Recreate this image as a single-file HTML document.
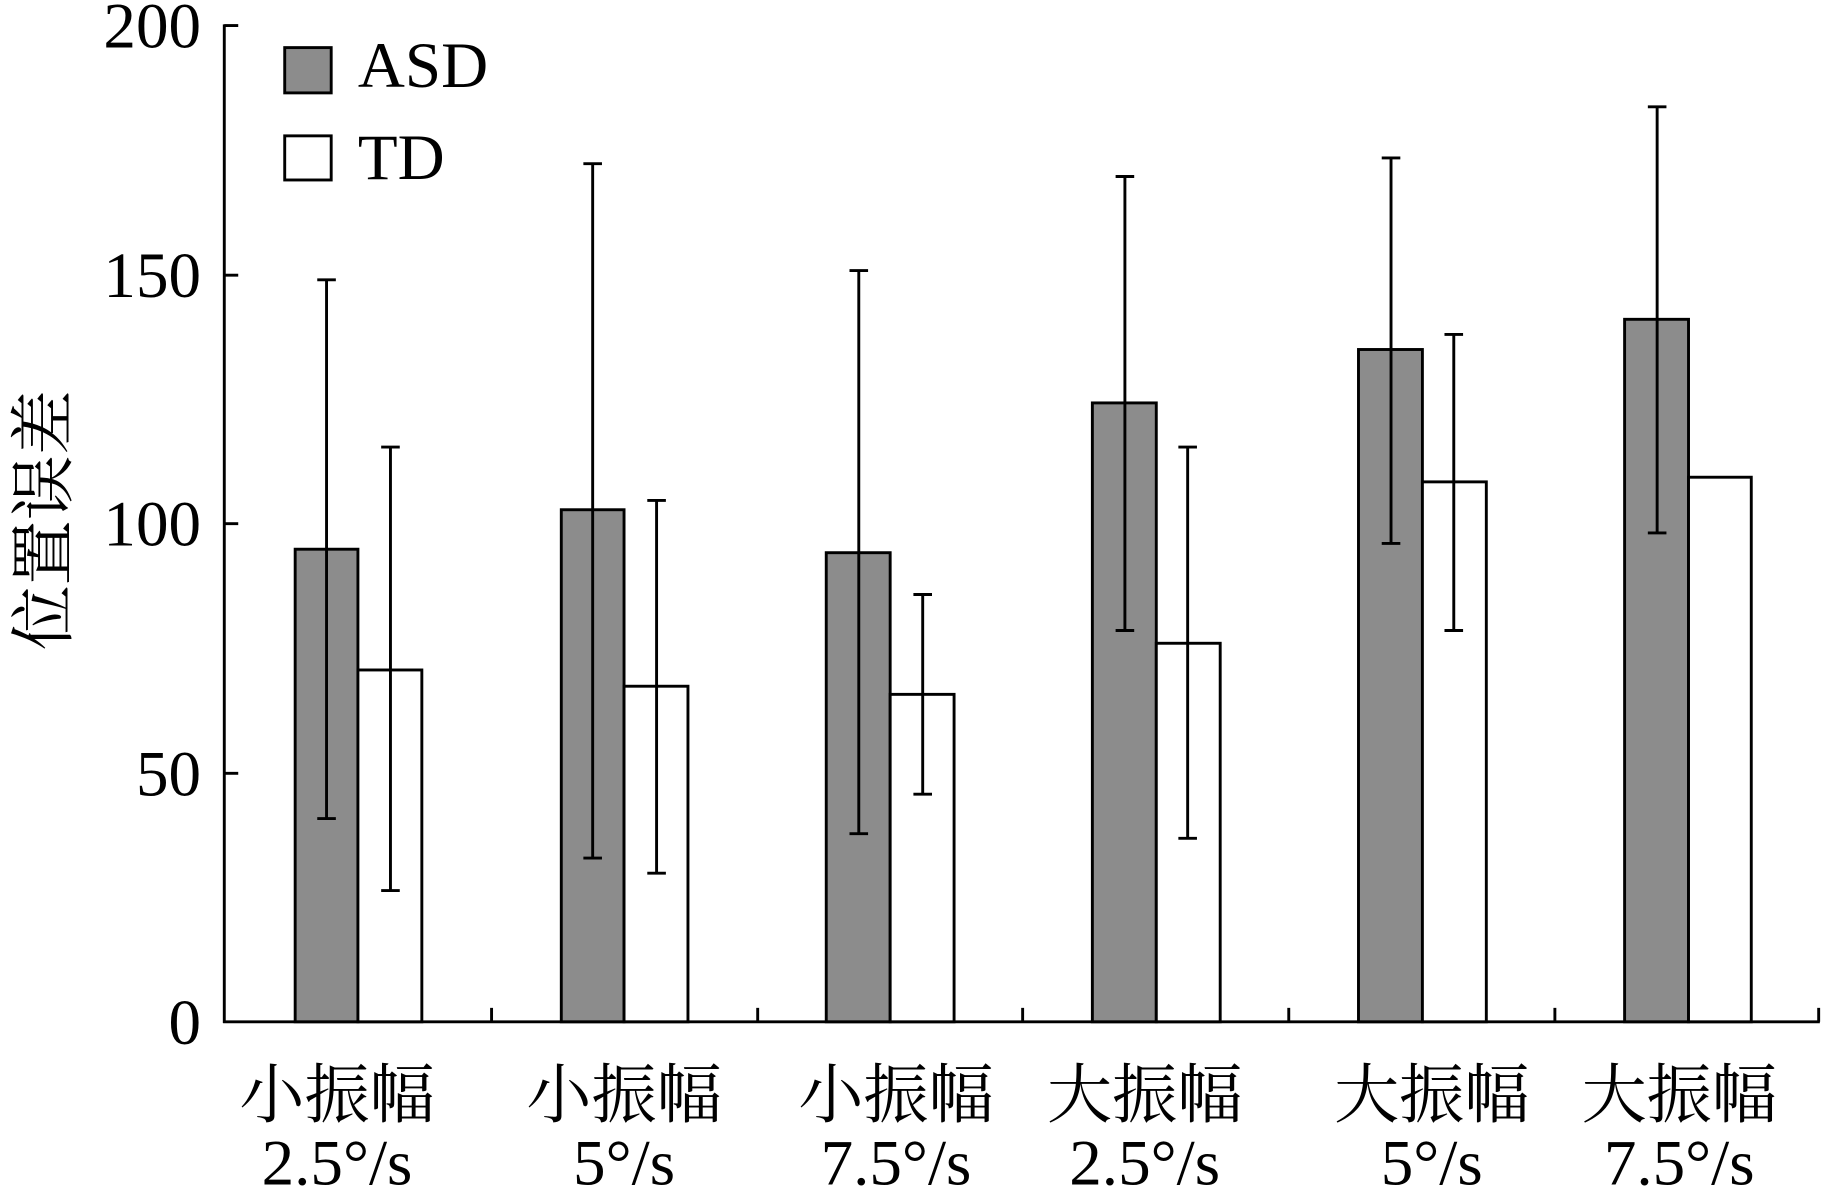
<!DOCTYPE html>
<html><head><meta charset="utf-8"><style>html,body{margin:0;padding:0;background:#fff}svg{display:block}</style></head>
<body>
<svg width="1821" height="1189" viewBox="0 0 1567 1024" preserveAspectRatio="none" xmlns="http://www.w3.org/2000/svg" font-family="'Liberation Serif','Noto Serif CJK SC',serif" fill="#000">
<g stroke="#000" stroke-width="2.5" fill="none">
<line x1="193" y1="21" x2="193" y2="881"/>
<line x1="192" y1="880" x2="1566" y2="880"/>
<line x1="193" y1="22" x2="205" y2="22"/>
<line x1="193" y1="237" x2="205" y2="237"/>
<line x1="193" y1="451" x2="205" y2="451"/>
<line x1="193" y1="666" x2="205" y2="666"/>
<line x1="423" y1="880" x2="423" y2="868"/>
<line x1="652" y1="880" x2="652" y2="868"/>
<line x1="880" y1="880" x2="880" y2="868"/>
<line x1="1109" y1="880" x2="1109" y2="868"/>
<line x1="1338" y1="880" x2="1338" y2="868"/>
<line x1="1565" y1="880" x2="1565" y2="868"/>
</g>
<g stroke="#000" stroke-width="2.5">
<rect x="254" y="473" width="54" height="407" fill="#8c8c8c"/>
<rect x="308" y="577" width="55" height="303" fill="#fff"/>
<rect x="483" y="439" width="54" height="441" fill="#8c8c8c"/>
<rect x="537" y="591" width="55" height="289" fill="#fff"/>
<rect x="711" y="476" width="55" height="404" fill="#8c8c8c"/>
<rect x="766" y="598" width="55" height="282" fill="#fff"/>
<rect x="940" y="347" width="55" height="533" fill="#8c8c8c"/>
<rect x="995" y="554" width="55" height="326" fill="#fff"/>
<rect x="1169" y="301" width="55" height="579" fill="#8c8c8c"/>
<rect x="1224" y="415" width="55" height="465" fill="#fff"/>
<rect x="1398" y="275" width="55" height="605" fill="#8c8c8c"/>
<rect x="1453" y="411" width="54" height="469" fill="#fff"/>
</g>
<g stroke="#000" stroke-width="2.5" fill="none">
<path d="M281 241V705M273 241H289M273 705H289"/>
<path d="M336 385V767M328 385H344M328 767H344"/>
<path d="M510 141V739M502 141H518M502 739H518"/>
<path d="M565 431V752M557 431H573M557 752H573"/>
<path d="M739 233V718M731 233H747M731 718H747"/>
<path d="M794 512V684M786 512H802M786 684H802"/>
<path d="M968 152V543M960 152H976M960 543H976"/>
<path d="M1022 385V722M1014 385H1030M1014 722H1030"/>
<path d="M1197 136V468M1189 136H1205M1189 468H1205"/>
<path d="M1251 288V543M1243 288H1259M1243 543H1259"/>
<path d="M1426 92V459M1418 92H1434M1418 459H1434"/>
</g>
<g stroke="#000" stroke-width="2.5">
<rect x="245" y="41" width="40" height="39" fill="#8c8c8c"/>
<rect x="245" y="117" width="40" height="38" fill="#fff"/>
</g>
<g font-size="56">
<text x="308" y="75">ASD</text>
<text x="308" y="154">TD</text>
</g>
<g font-size="56" text-anchor="end">
<text x="173" y="41">200</text>
<text x="173" y="256">150</text>
<text x="173" y="470">100</text>
<text x="173" y="685">50</text>
<text x="173" y="899">0</text>
</g>
<text font-size="56" text-anchor="middle" transform="translate(57,448) rotate(-90)">位置误差</text>
<g font-size="56" text-anchor="middle">
<text x="290" y="962">小振幅</text><text x="290" y="1020">2.5°/s</text>
<text x="537" y="962">小振幅</text><text x="537" y="1020">5°/s</text>
<text x="771" y="962">小振幅</text><text x="771" y="1020">7.5°/s</text>
<text x="985" y="962">大振幅</text><text x="985" y="1020">2.5°/s</text>
<text x="1232" y="962">大振幅</text><text x="1232" y="1020">5°/s</text>
<text x="1445" y="962">大振幅</text><text x="1445" y="1020">7.5°/s</text>
</g>
</svg>
</body></html>
